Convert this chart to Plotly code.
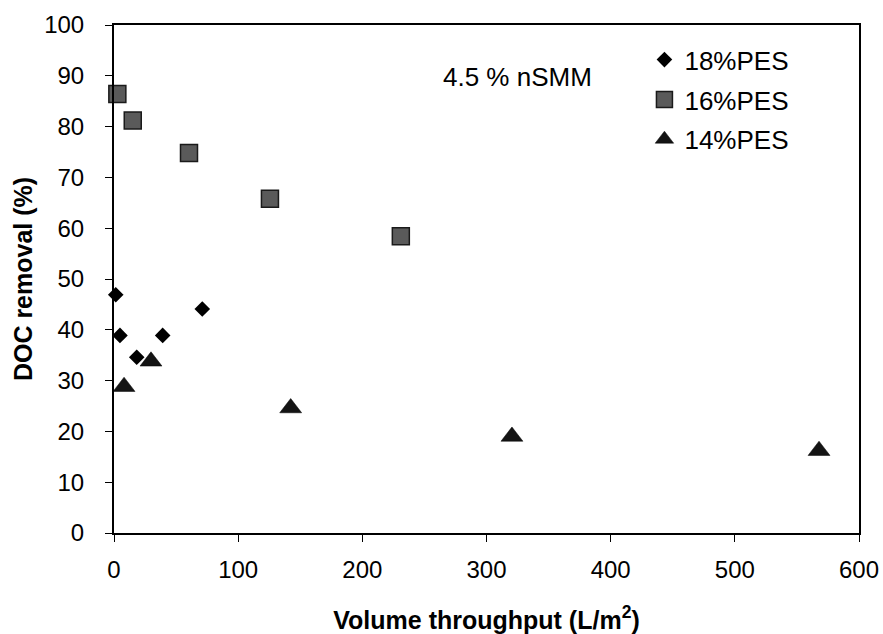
import plotly.graph_objects as go

# Volume throughput (L/m^2) and DOC removal (%) for each membrane
pes18_x = [1.4, 4.8, 18.3, 39.2, 71.1]
pes18_y = [46.9, 38.9, 34.6, 38.9, 44.1]

pes16_x = [2.7, 15.1, 60.4, 125.6, 231.0]
pes16_y = [86.4, 81.2, 74.8, 65.8, 58.4]

pes14_x = [8.1, 29.8, 142.3, 320.5, 567.8]
pes14_y = [28.8, 33.8, 24.6, 19.0, 16.2]

series_names = ["18%PES", "16%PES", "14%PES"]

FONT = "Arial, Liberation Sans, Helvetica, sans-serif"

fig = go.Figure()

fig.add_trace(go.Scatter(
    x=pes18_x, y=pes18_y, mode="markers", name=series_names[0],
    legendgroup="a",
    marker=dict(symbol="diamond", size=12, color="#000000",
                line=dict(width=0)),
    cliponaxis=False,
))
fig.add_trace(go.Scatter(
    x=pes16_x, y=pes16_y, mode="markers", name=series_names[1],
    legendgroup="b",
    marker=dict(symbol="square", size=17, color="#5a5a5a",
                line=dict(width=1.5, color="#1a1a1a")),
    cliponaxis=False,
))
fig.add_trace(go.Scatter(
    x=pes14_x, y=pes14_y, mode="markers", name=series_names[2],
    legendgroup="c",
    marker=dict(symbol="triangle-up", size=19, color="#141414",
                line=dict(width=0.5, color="#000000")),
    cliponaxis=False,
))

fig.add_annotation(
    text="4.5 % nSMM", xref="paper", yref="paper",
    x=0.541, y=0.898, xanchor="center", yanchor="middle",
    showarrow=False, font=dict(family=FONT, size=26, color="#000000"),
)

axis_common = dict(
    showline=True, linecolor="#000000", linewidth=2, mirror=True,
    ticks="outside", ticklen=7, tickwidth=1, tickcolor="#000000",
    showgrid=False, zeroline=False, automargin=False,
    tickfont=dict(family=FONT, size=24, color="#000000"),
)

fig.update_layout(
    width=883, height=634,
    margin=dict(l=114, r=24, t=25, b=101),
    paper_bgcolor="#ffffff", plot_bgcolor="#ffffff",
    font=dict(family=FONT, color="#000000"),
    xaxis=dict(
        range=[0, 600], dtick=100, tick0=0,
        ticklabelstandoff=7,
        title=dict(text="<b>Volume throughput (L/m<sup>2</sup>)</b>",
                   font=dict(family=FONT, size=25, color="#000000"),
                   standoff=30),
        **axis_common,
    ),
    yaxis=dict(
        range=[0, 100], dtick=10, tick0=0,
        ticklabelstandoff=16,
        title=dict(text="<b>DOC removal (%)</b>",
                   font=dict(family=FONT, size=25, color="#000000"),
                   standoff=4),
        **axis_common,
    ),
    showlegend=True,
    legend=dict(
        x=0.712, y=0.978, xanchor="left", yanchor="top",
        bgcolor="rgba(0,0,0,0)", borderwidth=0,
        font=dict(family=FONT, size=26, color="#000000"),
        traceorder="grouped", tracegroupgap=3,
    ),
)

fig.write_html("out.html")
